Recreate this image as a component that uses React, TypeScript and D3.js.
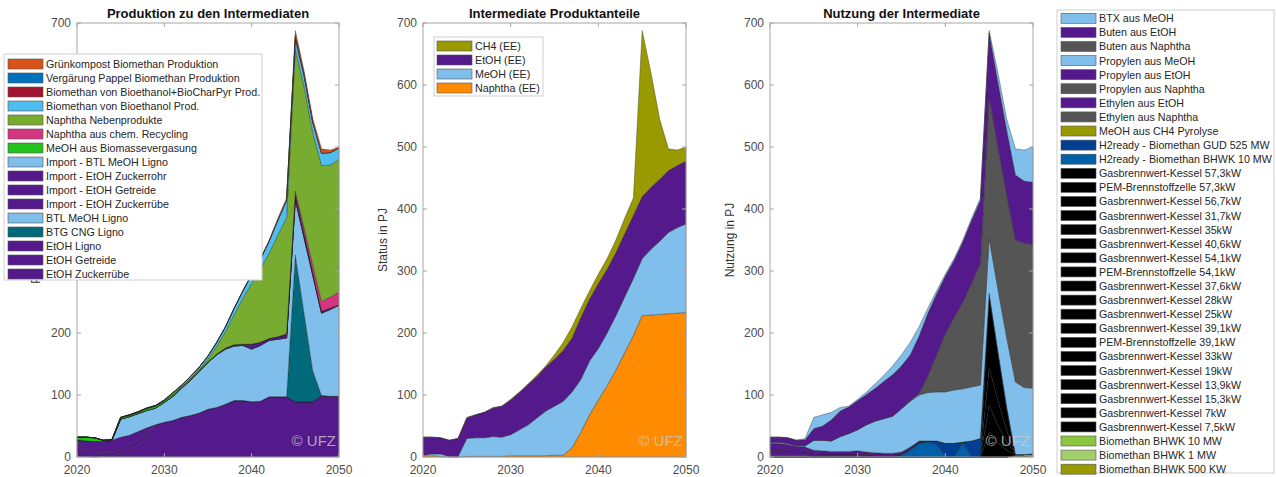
import React from 'react';
import * as d3 from 'd3';

// years on the x axis
const years = [2020, 2021, 2022, 2023, 2024, 2025, 2026, 2027, 2028, 2029, 2030, 2031, 2032, 2033, 2034, 2035, 2036, 2037, 2038, 2039, 2040, 2041, 2042, 2043, 2044, 2045, 2046, 2047, 2048, 2049, 2050];
const yTicks = [0, 100, 200, 300, 400, 500, 600, 700];
const xTicks = [2020, 2030, 2040, 2050];
const zero = [0, 0, 0, 0, 0, 0, 0, 0, 0, 0, 0, 0, 0, 0, 0, 0, 0, 0, 0, 0, 0, 0, 0, 0, 0, 0, 0, 0, 0, 0, 0];

// --- Produktion zu den Intermediaten (stack order, bottom first)
const etohZuckerruebe = [22, 1, 0, 1, 2, 5, 10, 18, 30, 52, 56, 59, 64, 67, 71, 77, 80, 85, 91, 91, 89, 90, 97, 97, 97, 89, 89, 89, 99, 98, 98];
const etohGetreide = [4, 10, 8, 6, 5, 8, 10, 10, 10, 0, 0, 0, 0, 0, 0, 0, 0, 0, 0, 0, 0, 0, 0, 0, 0, 0, 0, 0, 0, 0, 0];
const etohLigno = [2, 15, 17, 18, 20, 19, 15, 13, 7, 0, 0, 0, 0, 0, 0, 0, 0, 0, 0, 0, 0, 0, 0, 0, 0, 0, 0, 0, 0, 0, 0];
const btgCngLigno = [0, 0, 0, 0, 0, 0, 0, 0, 0, 0, 0, 0, 0, 0, 0, 0, 0, 0, 0, 0, 0, 0, 0, 0, 0, 237, 143, 50, 0, 0, 0];
const btlMeohLigno = [0, 0, 0, 0, 0, 29, 30, 29, 28, 27, 32, 39, 47, 57, 67, 75, 85, 89, 88, 89, 85, 90, 91, 93, 95, 89, 122, 154, 133, 140, 147];
const importEtohZuckerrohr = [0, 0, 0, 0, 0, 0, 0, 0, 0, 0, 0, 0, 0, 0, 0, 0, 0, 1, 2, 2, 8, 5, 3, 4, 5, 8, 6, 4, 3, 2, 0];
const meohBiomasse = [4, 6, 6, 2, 1, 2, 2, 2, 3, 3, 2, 2, 2, 2, 2, 2, 1, 1, 0, 0, 0, 0, 0, 0, 0, 0, 0, 0, 0, 0, 0];
const naphthaRecycling = [0, 0, 0, 0, 0, 0, 0, 0, 0, 0, 0, 0, 0, 0, 0, 0, 0, 0, 0, 0, 0, 0, 0, 0, 2, 6, 10, 13, 16, 18, 21];
const naphthaNeben = [0, 0, 0, 0, 0, 1, 1, 1, 1, 1, 1, 3, 1, 1, 1, 4, 13, 26, 49, 74, 98, 118, 138, 164, 187, 228, 228, 213, 219, 213, 214];
const biomethanBioethanol = [0, 0, 0, 0, 0, 0, 0, 0, 0, 0, 1, 1, 2, 3, 4, 5, 6, 8, 10, 12, 14, 16, 19, 24, 28, 16, 16, 16, 20, 20, 18];
const biomethanBioChar = [0, 0, 0, 0, 0, 0, 0, 0, 0, 0, 0, 0, 0, 0, 0, 0, 0, 0, 0, 0, 0, 0, 0, 0, 0, 4, 2, 1, 0, 0, 0];
const pappelBiomethan = [0, 0, 0, 0, 0, 0, 0, 0, 0, 0, 0, 0, 0, 0, 0, 0, 0, 0, 0, 0, 0, 0, 0, 0, 0, 3, 1, 0, 0, 0, 0];
const gruenkompost = [0, 0, 0, 0, 0, 0, 0, 0, 0, 0, 0, 0, 0, 0, 0, 0, 0, 0, 0, 0, 1, 1, 2, 3, 4, 8, 6, 6, 7, 4, 2];

// --- Intermediate Produktanteile
const naphthaEE = [2, 2, 1, 0, 0, 1, 1, 1, 1, 1, 2, 2, 2, 2, 2, 3, 3, 15, 40, 68, 92, 115, 140, 168, 196, 228, 229, 230, 231, 232, 233];
const meohEE = [1, 3, 4, 1, 1, 29, 30, 30, 32, 31, 34, 42, 50, 61, 72, 79, 87, 90, 85, 87, 83, 85, 88, 90, 92, 92, 106, 118, 131, 138, 143];
const etohEE = [29, 27, 26, 26, 29, 33, 37, 41, 46, 50, 56, 60, 65, 67, 71, 76, 82, 87, 100, 100, 105, 103, 102, 102, 102, 100, 100, 100, 100, 100, 101];
const ch4EE = [0, 0, 0, 0, 0, 1, 0, 0, 1, 0, 1, 1, 1, 2, 2, 7, 13, 18, 15, 13, 15, 17, 20, 25, 28, 268, 185, 97, 35, 25, 23];

// --- Nutzung der Intermediate
const bhwk500 = [0, 0, 0, 0, 0, 0, 0, 0, 0, 0, 0, 0, 0, 0, 0, 0, 0, 0, 0, 0, 0, 0, 0, 0, 0, 0, 0, 0, 1, 1, 1];
const bhwk1 = [0, 0, 0, 0, 0, 0, 0, 0, 0, 0, 0, 0, 0, 0, 0, 0, 0, 0, 0, 0, 0, 0, 0, 0, 0, 0, 0, 0, 1, 1, 1];
const bhwk10 = [0, 0, 0, 0, 0, 0, 0, 0, 0, 0, 0, 0, 0, 0, 0, 0, 0, 0, 0, 0, 0, 0, 0, 0, 0, 0, 0, 0, 2, 2, 3];
const gas317 = [0, 0, 0, 0, 0, 0, 0, 0, 0, 0, 0, 0, 0, 0, 0, 0, 0, 0, 0, 0, 0, 0, 0, 0, 0, 40, 23, 11, 0, 0, 0];
const gas567 = [0, 0, 0, 0, 0, 0, 0, 0, 0, 0, 0, 0, 0, 0, 0, 0, 0, 0, 0, 0, 0, 0, 0, 0, 0, 44, 28, 14, 0, 0, 0];
const pem573 = [0, 0, 0, 0, 0, 0, 0, 0, 0, 0, 0, 0, 0, 0, 0, 0, 0, 0, 0, 0, 0, 0, 0, 0, 0, 60, 40, 18, 0, 0, 0];
const gas573 = [0, 0, 0, 0, 0, 0, 0, 0, 0, 0, 0, 0, 0, 0, 0, 0, 0, 0, 0, 0, 0, 0, 0, 0, 0, 120, 80, 38, 0, 0, 0];
const h2Bhwk10 = [0, 0, 0, 0, 0, 0, 0, 0, 0, 0, 0, 0, 0, 0, 0, 4, 12, 22, 24, 20, 0, 0, 22, 0, 0, 0, 0, 0, 0, 0, 0];
const h2Gud525 = [0, 0, 0, 0, 0, 0, 0, 0, 0, 0, 0, 0, 0, 0, 0, 0, 0, 1, 2, 6, 22, 22, 2, 26, 30, 0, 0, 0, 0, 0, 0];
const ethylenNaphtha = [2, 2, 2, 2, 2, 1, 1, 1, 1, 1, 1, 1, 0, 0, 0, 0, 0, 0, 0, 0, 0, 0, 0, 0, 0, 0, 0, 0, 0, 0, 0];
const ethylenEtoh = [9, 9, 8, 7, 6, 5, 4, 4, 4, 4, 4, 3, 3, 3, 3, 2, 2, 1, 0, 0, 0, 0, 0, 0, 0, 0, 0, 0, 0, 0, 0];
const propylenEtoh = [11, 11, 10, 8, 8, 5, 5, 4, 4, 4, 5, 4, 4, 3, 3, 2, 2, 2, 0, 0, 0, 0, 0, 0, 0, 0, 0, 0, 0, 0, 0];
const propylenMeoh = [2, 2, 2, 1, 2, 16, 17, 17, 24, 29, 34, 44, 51, 56, 60, 70, 74, 74, 78, 79, 83, 86, 86, 87, 86, 89, 100, 112, 117, 108, 106];
const butenNaphtha = [0, 0, 0, 0, 0, 0, 0, 0, 0, 0, 0, 0, 0, 0, 0, 0, 1, 3, 26, 60, 94, 117, 140, 167, 196, 229, 229, 229, 229, 233, 232];
const butenEtoh = [8, 8, 9, 9, 10, 19, 23, 34, 41, 43, 47, 49, 53, 60, 67, 69, 74, 92, 102, 98, 93, 92, 97, 102, 102, 102, 105, 106, 105, 100, 100];
const btxMeoh = [0, 0, 0, 0, 2, 18, 18, 12, 6, 1, 2, 4, 7, 10, 14, 18, 20, 15, 8, 5, 3, 3, 3, 3, 4, 4, 15, 17, 42, 50, 57];

const PURPLE = '#541A8B';
const LBLUE = '#80BFEB';
const GRAY = '#555555';
const BLACK = '#000000';
const OLIVE = '#999900';

type Series = { name: string; color: string; values: number[] };

// legend order = top of stack first
const prodSeries: Series[] = [
  { name: 'Grünkompost Biomethan Produktion', color: '#D95319', values: gruenkompost },
  { name: 'Vergärung Pappel Biomethan Produktion', color: '#0072BD', values: pappelBiomethan },
  { name: 'Biomethan von Bioethanol+BioCharPyr Prod.', color: '#A2142F', values: biomethanBioChar },
  { name: 'Biomethan von Bioethanol Prod.', color: '#4DBEEE', values: biomethanBioethanol },
  { name: 'Naphtha Nebenprodukte', color: '#77AC30', values: naphthaNeben },
  { name: 'Naphtha aus chem. Recycling', color: '#D4357F', values: naphthaRecycling },
  { name: 'MeOH aus Biomassevergasung', color: '#22C31C', values: meohBiomasse },
  { name: 'Import - BTL MeOH Ligno', color: LBLUE, values: zero },
  { name: 'Import - EtOH Zuckerrohr', color: PURPLE, values: importEtohZuckerrohr },
  { name: 'Import - EtOH Getreide', color: PURPLE, values: zero },
  { name: 'Import - EtOH Zuckerrübe', color: PURPLE, values: zero },
  { name: 'BTL MeOH Ligno', color: LBLUE, values: btlMeohLigno },
  { name: 'BTG CNG Ligno', color: '#00697A', values: btgCngLigno },
  { name: 'EtOH Ligno', color: PURPLE, values: etohLigno },
  { name: 'EtOH Getreide', color: PURPLE, values: etohGetreide },
  { name: 'EtOH Zuckerrübe', color: PURPLE, values: etohZuckerruebe },
];

const shareSeries: Series[] = [
  { name: 'CH4 (EE)', color: OLIVE, values: ch4EE },
  { name: 'EtOH (EE)', color: PURPLE, values: etohEE },
  { name: 'MeOH (EE)', color: LBLUE, values: meohEE },
  { name: 'Naphtha (EE)', color: '#FF8C00', values: naphthaEE },
];

const useSeries: Series[] = [
  { name: 'BTX aus MeOH', color: LBLUE, values: btxMeoh },
  { name: 'Buten aus EtOH', color: PURPLE, values: butenEtoh },
  { name: 'Buten aus Naphtha', color: GRAY, values: butenNaphtha },
  { name: 'Propylen aus MeOH', color: LBLUE, values: propylenMeoh },
  { name: 'Propylen aus EtOH', color: PURPLE, values: propylenEtoh },
  { name: 'Propylen aus Naphtha', color: GRAY, values: zero },
  { name: 'Ethylen aus EtOH', color: PURPLE, values: ethylenEtoh },
  { name: 'Ethylen aus Naphtha', color: GRAY, values: ethylenNaphtha },
  { name: 'MeOH aus CH4 Pyrolyse', color: OLIVE, values: zero },
  { name: 'H2ready - Biomethan GUD 525 MW', color: '#003F91', values: h2Gud525 },
  { name: 'H2ready - Biomethan BHWK 10 MW', color: '#0060A8', values: h2Bhwk10 },
  { name: 'Gasbrennwert-Kessel 57,3kW', color: BLACK, values: gas573 },
  { name: 'PEM-Brennstoffzelle 57,3kW', color: BLACK, values: pem573 },
  { name: 'Gasbrennwert-Kessel 56,7kW', color: BLACK, values: gas567 },
  { name: 'Gasbrennwert-Kessel 31,7kW', color: BLACK, values: gas317 },
  { name: 'Gasbrennwert-Kessel 35kW', color: BLACK, values: zero },
  { name: 'Gasbrennwert-Kessel 40,6kW', color: BLACK, values: zero },
  { name: 'Gasbrennwert-Kessel 54,1kW', color: BLACK, values: zero },
  { name: 'PEM-Brennstoffzelle 54,1kW', color: BLACK, values: zero },
  { name: 'Gasbrennwert-Kessel 37,6kW', color: BLACK, values: zero },
  { name: 'Gasbrennwert-Kessel 28kW', color: BLACK, values: zero },
  { name: 'Gasbrennwert-Kessel 25kW', color: BLACK, values: zero },
  { name: 'Gasbrennwert-Kessel 39,1kW', color: BLACK, values: zero },
  { name: 'PEM-Brennstoffzelle 39,1kW', color: BLACK, values: zero },
  { name: 'Gasbrennwert-Kessel 33kW', color: BLACK, values: zero },
  { name: 'Gasbrennwert-Kessel 19kW', color: BLACK, values: zero },
  { name: 'Gasbrennwert-Kessel 13,9kW', color: BLACK, values: zero },
  { name: 'Gasbrennwert-Kessel 15,3kW', color: BLACK, values: zero },
  { name: 'Gasbrennwert-Kessel 7kW', color: BLACK, values: zero },
  { name: 'Gasbrennwert-Kessel 7,5kW', color: BLACK, values: zero },
  { name: 'Biomethan BHWK 10 MW', color: '#8CC63E', values: bhwk10 },
  { name: 'Biomethan BHWK 1 MW', color: '#A3CF6B', values: bhwk1 },
  { name: 'Biomethan BHWK 500 KW', color: OLIVE, values: bhwk500 },
];

const FONT = 'Liberation Sans, Arial, Helvetica, sans-serif';
const TOP = 23;
const BOTTOM = 457;
const AXIS = '#A6A6A6';
const TICKTXT = '#4D4D4D';

const Panel = ({ x0, x1, title, ylabel, labelX, series }: { x0: number; x1: number; title: string; ylabel: string; labelX: number; series: Series[] }) => {
  const x = d3.scaleLinear().domain([2020, 2050]).range([x0, x1]);
  const y = d3.scaleLinear().domain([0, 700]).range([BOTTOM, TOP]);

  // stack bottom-first: reverse of the legend order
  const stacked = [...series].reverse();
  const keys = stacked.map((_, k) => 's' + k);
  const table = years.map((yr, i) => {
    const row: any = { year: yr };
    stacked.forEach((s, k) => { row['s' + k] = s.values[i]; });
    return row;
  });
  const layers = d3.stack<any>().keys(keys)(table);
  const area = d3.area<any>()
    .x(d => x(d.data.year))
    .y0(d => y(d[0]))
    .y1(d => y(d[1]));

  return (
    <g>
      {layers.map((layer, k) => (
        <path key={k} d={area(layer) || ''} fill={stacked[k].color}
          stroke="#222" strokeOpacity={0.7} strokeWidth={0.5} strokeLinejoin="round" />
      ))}
      <text x={x1 - 3} y={446} textAnchor="end" fontFamily={FONT} fontSize={15}
        fill="#C8C8C8" fillOpacity={0.8}>© UFZ</text>
      <rect x={x0} y={TOP} width={x1 - x0} height={BOTTOM - TOP} fill="none" stroke={AXIS} strokeWidth={1} />
      {yTicks.map(t => (
        <g key={'y' + t}>
          <line x1={x0} x2={x0 + 4} y1={y(t)} y2={y(t)} stroke={AXIS} />
          <line x1={x1} x2={x1 - 4} y1={y(t)} y2={y(t)} stroke={AXIS} />
          <text x={x0 - 6} y={y(t) + 4} textAnchor="end" fontFamily={FONT} fontSize={12} fill={TICKTXT}>{t}</text>
        </g>
      ))}
      {xTicks.map(t => (
        <g key={'x' + t}>
          <line x1={x(t)} x2={x(t)} y1={BOTTOM} y2={BOTTOM - 4} stroke={AXIS} />
          <line x1={x(t)} x2={x(t)} y1={TOP} y2={TOP + 4} stroke={AXIS} />
          <text x={x(t)} y={474} textAnchor="middle" fontFamily={FONT} fontSize={12} fill={TICKTXT}>{t}</text>
        </g>
      ))}
      <text x={(x0 + x1) / 2} y={18} textAnchor="middle" fontFamily={FONT} fontSize={13}
        fontWeight="bold" fill="#111">{title}</text>
      <text transform={`translate(${labelX},${(TOP + BOTTOM) / 2}) rotate(-90)`} textAnchor="middle"
        fontFamily={FONT} fontSize={12} fill="#333">{ylabel}</text>
    </g>
  );
};

const Legend = ({ box, firstY, step, swatchX, series }: { box: [number, number, number, number]; firstY: number; step: number; swatchX: number; series: Series[] }) => (
  <g>
    <rect x={box[0]} y={box[1]} width={box[2]} height={box[3]} fill="#fff" stroke="#CFCFCF" strokeWidth={1} />
    {series.map((s, i) => {
      const cy = firstY + i * step;
      return (
        <g key={i}>
          <rect x={swatchX} y={cy - 5} width={35} height={10} fill={s.color} stroke="#555" strokeWidth={0.6} />
          <text x={swatchX + 38} y={cy + 4} fontFamily={FONT} fontSize={10.7} fill="#262626">{s.name}</text>
        </g>
      );
    })}
  </g>
);

export default function App() {
  return (
    <svg width={1276} height={477} style={{ position: 'absolute', left: 0, top: 0, background: '#fff' }}>
      <rect width={1276} height={477} fill="#fff" />
      <Panel x0={77} x1={339} title="Produktion zu den Intermediaten" ylabel="Produktion in PJ" labelX={40} series={prodSeries} />
      <Panel x0={423} x1={686} title="Intermediate Produktanteile" ylabel="Status in PJ" labelX={387} series={shareSeries} />
      <Panel x0={770} x1={1033} title="Nutzung der Intermediate" ylabel="Nutzung in PJ" labelX={734} series={useSeries} />
      <Legend box={[4, 54, 258, 226]} firstY={64} step={14} swatchX={8} series={prodSeries} />
      <Legend box={[434, 37, 109, 59]} firstY={46} step={14} swatchX={437} series={shareSeries} />
      <Legend box={[1057, 10, 217, 463]} firstY={18.3} step={14.09} swatchX={1061} series={useSeries} />
    </svg>
  );
}
